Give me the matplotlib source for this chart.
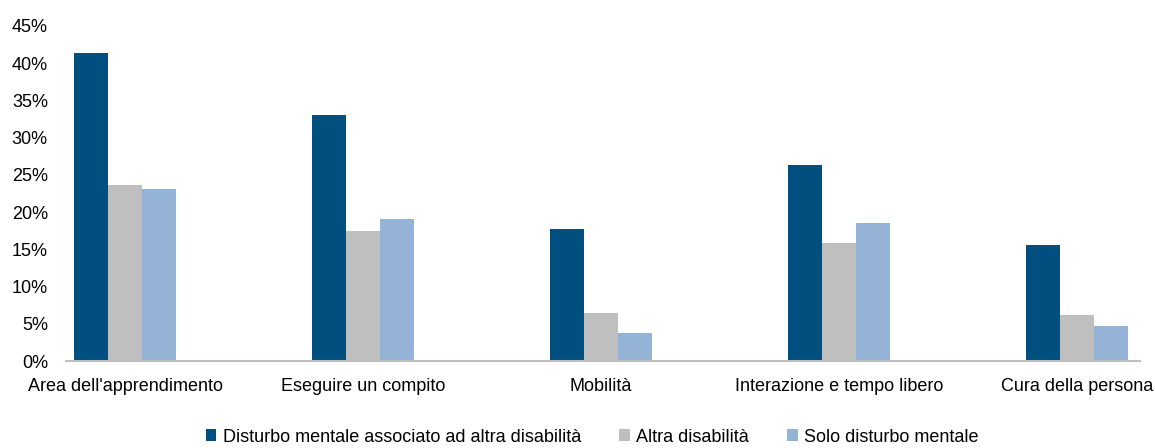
import matplotlib
matplotlib.use("Agg")
import matplotlib.pyplot as plt
import numpy as np
from matplotlib.ticker import PercentFormatter

plt.rcParams['font.family'] = ['Liberation Sans Narrow', 'Liberation Sans', 'DejaVu Sans']

categories = ["Area dell'apprendimento", "Eseguire un compito", "Mobilità",
              "Interazione e tempo libero", "Cura della persona"]
series = ["Disturbo mentale associato ad altra disabilità", "Altra disabilità",
          "Solo disturbo mentale"]
disturbo_altra = [41.4, 33.0, 17.7, 26.3, 15.6]
altra = [23.6, 17.5, 6.4, 15.9, 6.2]
solo_disturbo = [23.1, 19.1, 3.8, 18.5, 4.7]
colors = ['#004F7E', '#BFBFBF', '#95B3D7']

fig = plt.figure(figsize=(11.55, 4.48), dpi=100)
ax = fig.add_axes([66 / 1155, 87 / 448, (1140 - 66) / 1155, (361 - 26) / 448])

x = np.arange(len(categories))
w = 34 / 238
for i, (vals, lab, c) in enumerate(zip([disturbo_altra, altra, solo_disturbo], series, colors)):
    ax.bar(x + (i - 1) * w, vals, width=w, color=c, label=lab, edgecolor='none')

ax.set_xlim(-0.248, 4.265)
ax.set_ylim(0, 45)
ax.set_yticks(np.arange(0, 46, 5))
ax.yaxis.set_major_formatter(PercentFormatter(decimals=0))
ax.set_xticks(x)
ax.set_xticklabels(categories)
ax.tick_params(axis='both', length=0, labelsize=13, colors='black')
ax.tick_params(axis='y', pad=13)
ax.tick_params(axis='x', pad=12)

for s in ['top', 'right', 'left']:
    ax.spines[s].set_visible(False)
ax.spines['bottom'].set_color('#BFBFBF')
ax.spines['bottom'].set_linewidth(1.5)

fig.legend(loc='center', bbox_to_anchor=(592 / 1155, 1 - 437 / 448), ncol=3,
           frameon=False, fontsize=13, handlelength=0.6, handleheight=0.6,
           handletextpad=0.35, columnspacing=2.1)

fig.savefig('out.png', dpi=100)
